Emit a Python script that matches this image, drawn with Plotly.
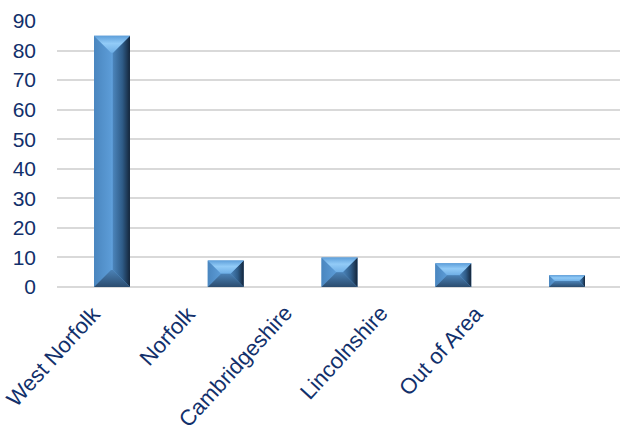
import plotly.graph_objects as go

# Patients by area of residence
categories = ["West Norfolk", "Norfolk", "Cambridgeshire", "Lincolnshire", "Out of Area"]
values = [85, 9, 10, 8, 4]
y_ticks = [0, 10, 20, 30, 40, 50, 60, 70, 80, 90]

W, H = 620, 435
M_L, M_R, M_T, M_B = 57, 0, 21, 148
X_RANGE = [-0.4835, 4.466]
Y_RANGE = [0, 90]
BAR_W = 0.316          # bar width in category units
BEVEL_PX = 17          # bevel depth in pixels

# category label placement (pixels): right end of first label and step
LABEL_X0, LABEL_STEP, LABEL_TOP = 108, 95.75, 298

px_per_x = (W - M_L - M_R) / (X_RANGE[1] - X_RANGE[0])
px_per_y = (H - M_T - M_B) / (Y_RANGE[1] - Y_RANGE[0])

NAVY = "#12306B"
FONT = "Liberation Sans, Arial, sans-serif"

fig = go.Figure()

# flat base bar drawn through the bar trace
fig.add_trace(go.Bar(
    x=list(range(len(categories))), y=values, width=BAR_W,
    marker=dict(color="#5B9BD5", line=dict(width=0)),
    hoverinfo="skip", showlegend=False,
))


def face(xs, ys, grad_type, scale):
    fig.add_trace(go.Scatter(
        x=xs + [xs[0]], y=ys + [ys[0]], mode="lines", fill="toself",
        line=dict(width=0, color="rgba(0,0,0,0)"),
        fillgradient=dict(type=grad_type, colorscale=scale),
        hoverinfo="skip", showlegend=False,
    ))


for i, v in enumerate(values):
    x0, x1 = i - BAR_W / 2, i + BAR_W / 2
    h_px = v * px_per_y
    w_px = BAR_W * px_per_x
    b = min(BEVEL_PX, h_px / 2, w_px / 2)
    bx, by = b / px_per_x, b / px_per_y
    ix0, ix1 = x0 + bx, x1 - bx
    iy0, iy1 = 0 + by, v - by

    # front face
    face([ix0, ix1, ix1, ix0], [iy0, iy0, iy1, iy1], "horizontal",
         [[0, "#5A99D4"], [0.5, "#63A4DF"], [1, "#5590CA"]])
    # left face
    face([x0, ix0, ix0, x0], [0, iy0, iy1, v], "horizontal",
         [[0, "#4A86BF"], [1, "#5C9CD7"]])
    # right face
    face([ix1, x1, x1, ix1], [iy0, 0, v, iy1], "horizontal",
         [[0, "#4B84BA"], [0.55, "#2F5C88"], [1, "#14253A"]])
    # top face
    face([x0, x1, ix1, ix0], [v, v, iy1, iy1], "vertical",
         [[0, "#6FAFE6"], [0.55, "#92CBF7"], [1, "#5E9FDA"]])
    # bottom face
    face([x0, ix0, ix1, x1], [0, iy0, iy0, 0], "vertical",
         [[0, "#2B4C6F"], [1, "#4B82B6"]])

# rotated category labels
for i, name in enumerate(categories):
    fig.add_annotation(
        text=name, textangle=-47.5, showarrow=False,
        xref="paper", yref="paper",
        x=(LABEL_X0 + i * LABEL_STEP - M_L) / (W - M_L - M_R),
        y=(H - M_B - LABEL_TOP) / (H - M_T - M_B),
        xanchor="right", yanchor="top",
        font=dict(family=FONT, size=22, color=NAVY),
    )

fig.update_layout(
    width=W, height=H,
    margin=dict(l=M_L, r=M_R, t=M_T, b=M_B),
    paper_bgcolor="white", plot_bgcolor="white",
    font=dict(family=FONT, size=21, color=NAVY),
    showlegend=False,
    xaxis=dict(
        range=X_RANGE, showticklabels=False,
        showgrid=False, zeroline=False, showline=False,
        ticks="", fixedrange=True,
    ),
    yaxis=dict(
        range=Y_RANGE, tickmode="array", tickvals=y_ticks,
        showgrid=True, gridcolor="#D9D9D9", gridwidth=2,
        zeroline=True, zerolinecolor="#D9D9D9", zerolinewidth=2,
        showline=False, ticks="", ticklabelstandoff=20, fixedrange=True,
    ),
)

fig.write_html("out.html")
